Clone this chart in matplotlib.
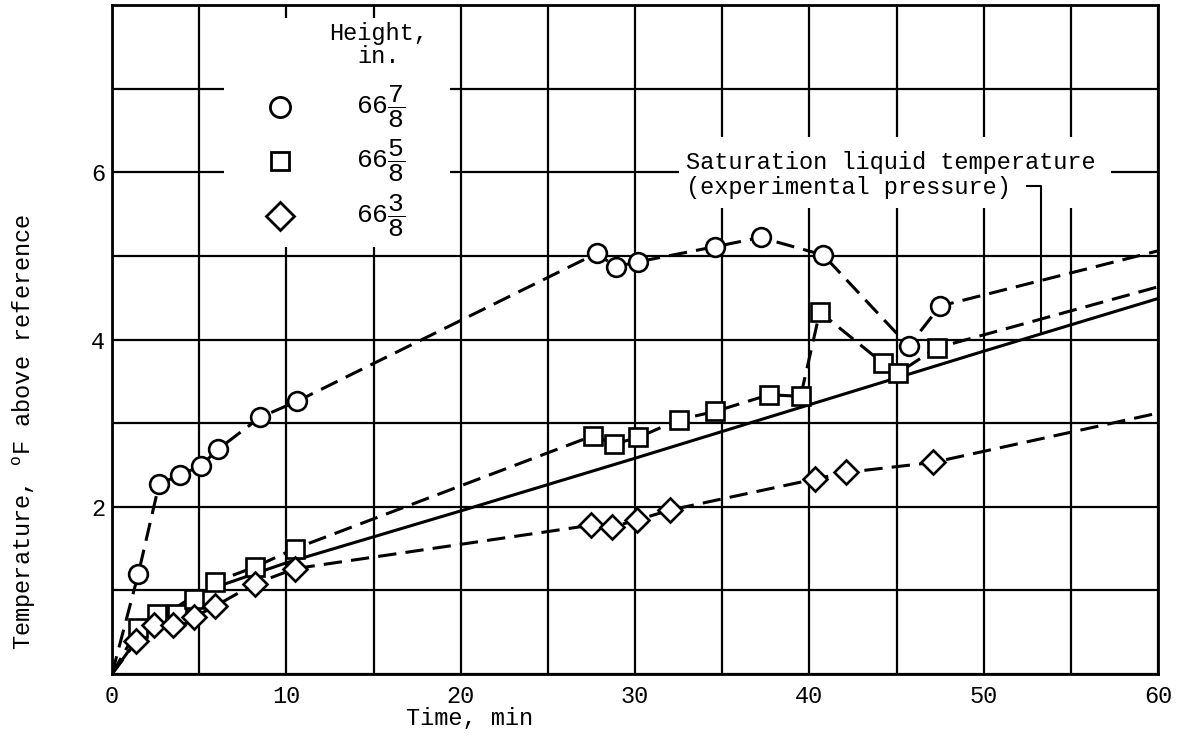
import matplotlib.pyplot as plt
from matplotlib.patches import Rectangle

plt.rcParams['font.family'] = ['Liberation Mono', 'DejaVu Sans Mono']
plt.rcParams['mathtext.fontset'] = 'custom'
plt.rcParams['mathtext.rm'] = 'Liberation Mono'
plt.rcParams['mathtext.default'] = 'regular'

# measured points, time (min) vs temperature (deg F above reference)
circ_t = [1.5, 2.7, 3.9, 5.1, 6.1, 8.5, 10.6, 27.8, 28.9, 30.2, 34.6, 37.2, 40.8, 45.7, 47.5]
circ_T = [1.19, 2.27, 2.38, 2.49, 2.69, 3.07, 3.26, 5.03, 4.87, 4.93, 5.11, 5.22, 5.01, 3.92, 4.40]

sq_t = [1.5, 2.6, 3.7, 4.7, 5.9, 8.2, 10.5, 27.6, 28.8, 30.2, 32.5, 34.6, 37.7, 39.5,
        40.6, 44.2, 45.1, 47.3]
sq_T = [0.55, 0.72, 0.72, 0.90, 1.10, 1.28, 1.50, 2.85, 2.75, 2.83, 3.04, 3.14, 3.34, 3.32,
        4.33, 3.72, 3.60, 3.90]

dia_t = [1.4, 2.4, 3.5, 4.7, 5.9, 8.2, 10.5, 27.5, 28.7, 30.1, 32.0, 40.3, 42.1, 47.1]
dia_T = [0.39, 0.58, 0.58, 0.68, 0.81, 1.08, 1.26, 1.78, 1.76, 1.84, 1.96, 2.33, 2.41, 2.53]

# faired curves run from the origin through the points out to 60 min
circ_end = 5.06
sq_end = 4.63
dia_end = 3.12

# saturation liquid temperature at experimental pressure
sat_t = [0, 2, 5, 10, 20, 30, 40, 50, 60]
sat_T = [0, 0.58, 0.97, 1.33, 1.95, 2.58, 3.22, 3.86, 4.49]

heights = [r'66$\dfrac{7}{8}$', r'66$\dfrac{5}{8}$', r'66$\dfrac{3}{8}$']
markers = ['o', 's', 'D']
msizes = [13.5, 13, 12.5]
key_sizes = [14.5, 13.5, 14.5]

FS = 17
dash = (0, (6, 3))


def main():
    fig = plt.figure(figsize=(11.78, 7.45), dpi=100)
    ax = fig.add_axes([112 / 1178, 71 / 745, 1046 / 1178, 669 / 745])
    ax.set_xlim(0, 60)
    ax.set_ylim(0, 8)
    ax.set_axisbelow(True)

    ax.set_xticks(range(0, 61, 10))
    ax.set_xticks(range(0, 61, 5), minor=True)
    ax.set_yticks([2, 4, 6])
    ax.set_yticks(range(0, 9), minor=True)
    ax.grid(which='both', color='black', lw=1.6)
    ax.tick_params(which='both', length=0, labelsize=FS)
    ax.tick_params(axis='x', pad=8)
    ax.tick_params(axis='y', pad=5)
    for sp in ax.spines.values():
        sp.set_linewidth(2.0)

    series = [(circ_t, circ_T, circ_end), (sq_t, sq_T, sq_end), (dia_t, dia_T, dia_end)]
    for (t, T, end), mk, ms in zip(series, markers, msizes):
        ax.plot([0] + t + [60], [0] + T + [end], color='black', lw=2.2,
                linestyle=dash, zorder=3)
        ax.plot(t, T, linestyle='none', marker=mk, ms=ms, mfc='white',
                mec='black', mew=1.9, zorder=4)

    ax.plot(sat_t, sat_T, color='black', lw=2.2, zorder=3)

    # key, boxed out of the grid
    ax.add_patch(Rectangle((6.4, 5.11), 13.0, 2.73, facecolor='white',
                           edgecolor='none', zorder=1))
    ax.text(15.3, 7.52, 'Height,\nin.', ha='center', va='center', fontsize=FS,
            linespacing=1.0, zorder=5)
    for y, mk, ms, lab in zip([6.78, 6.14, 5.48], markers, key_sizes, heights):
        ax.plot([9.64], [y], linestyle='none', marker=mk, ms=ms, mfc='white',
                mec='black', mew=2.0, zorder=5)
        ax.text(14.0, y, lab, ha='left', va='center', fontsize=19, zorder=5)

    # saturation curve callout
    ax.add_patch(Rectangle((32.5, 5.57), 24.8, 0.85, facecolor='white',
                           edgecolor='none', zorder=1))
    ax.text(32.9, 5.97, 'Saturation liquid temperature\n(experimental pressure)',
            ha='left', va='center', fontsize=FS, linespacing=1.1, zorder=5)
    ax.plot([52.5, 53.3, 53.3], [5.84, 5.84, 4.09], color='black', lw=1.5, zorder=3)

    ax.set_xlabel('Time, min', fontsize=FS)
    ax.xaxis.set_label_coords(20.5 / 60, -0.049)
    fig.text(24 / 1178, 1 - 432 / 745, r'Temperature, $^{\rm o}$F above reference',
             rotation=90, ha='center', va='center', fontsize=FS)

    fig.savefig('out.png', dpi=100)


if __name__ == '__main__':
    main()
